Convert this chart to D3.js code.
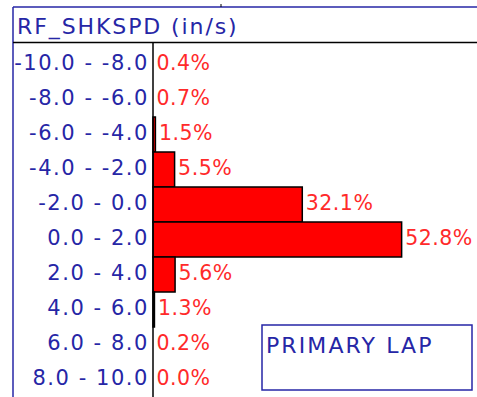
<!DOCTYPE html>
<html>
<head>
<meta charset="utf-8">
<script src="https://cdn.jsdelivr.net/npm/d3@7"></script>
<style>
  html, body { margin: 0; padding: 0; background: #fff; }
  svg { display: block; }
  text { font-family: "DejaVu Sans", sans-serif; }
</style>
</head>
<body>
<script>
// Histogram of RF_SHKSPD (shock speed, in/s), share of samples per bin
const channel = "RF_SHKSPD (in/s)";
const bins = ["-10.0 - -8.0", "-8.0 - -6.0", "-6.0 - -4.0", "-4.0 - -2.0", "-2.0 - 0.0",
              "0.0 - 2.0", "2.0 - 4.0", "4.0 - 6.0", "6.0 - 8.0", "8.0 - 10.0"];
const percents = [0.4, 0.7, 1.5, 5.5, 32.1, 52.8, 5.6, 1.3, 0.2, 0.0];
const lapLabel = "PRIMARY LAP";

const W = 477, H = 397;
const blue = "#2626a6", red = "#ff0000", redText = "#ff2a2a";

const svg = d3.select("body").append("svg").attr("width", W).attr("height", H);

const frameL = 13, frameT = 7, headerB = 42.5, axisX = 153;

const y = d3.scaleBand().domain(bins).range([47, H]).padding(0);
const x = d3.scaleLinear().domain([1.0, 68.5]).range([axisX, W]).clamp(true);

// frame
svg.append("line").attr("x1", frameL).attr("x2", W).attr("y1", frameT).attr("y2", frameT)
  .attr("stroke", blue).attr("stroke-width", 1.5);
svg.append("line").attr("x1", frameL).attr("x2", frameL).attr("y1", frameT).attr("y2", H)
  .attr("stroke", blue).attr("stroke-width", 1.5);
svg.append("line").attr("x1", 221).attr("x2", 221).attr("y1", 4).attr("y2", frameT)
  .attr("stroke", "#000").attr("stroke-width", 1);

// header
svg.append("text").attr("x", 17).attr("y", 33.5)
  .attr("fill", blue).attr("font-size", 22).attr("letter-spacing", 1.9)
  .text(channel);
svg.append("line").attr("x1", frameL).attr("x2", W).attr("y1", headerB).attr("y2", headerB)
  .attr("stroke", "#000").attr("stroke-width", 1.5);

// bars
svg.append("g").selectAll("rect").data(bins).join("rect")
  .attr("x", axisX)
  .attr("y", d => y(d))
  .attr("width", (d, i) => x(percents[i]) - axisX)
  .attr("height", y.bandwidth())
  .attr("fill", red)
  .attr("stroke", "#000").attr("stroke-width", 1.5)
  .attr("display", (d, i) => x(percents[i]) - axisX > 0 ? null : "none");

// value axis line
svg.append("line").attr("x1", axisX).attr("x2", axisX).attr("y1", headerB).attr("y2", H)
  .attr("stroke", "#000").attr("stroke-width", 1.5);

// bin labels
svg.append("g").selectAll("text").data(bins).join("text")
  .attr("x", 149)
  .attr("y", d => y(d) + y.bandwidth() / 2 + 5.5)
  .attr("text-anchor", "end")
  .attr("fill", blue).attr("font-size", 21).attr("letter-spacing", 1.55)
  .text(d => d);

// value labels
svg.append("g").selectAll("text").data(bins).join("text")
  .attr("x", (d, i) => Math.max(x(percents[i]), axisX) + 3.5)
  .attr("y", d => y(d) + y.bandwidth() / 2 + 5.5)
  .attr("fill", redText).attr("font-size", 20.5).attr("letter-spacing", 0.5)
  .text((d, i) => percents[i].toFixed(1) + "%");

// lap box
svg.append("rect").attr("x", 262).attr("y", 325).attr("width", 210).attr("height", 65)
  .attr("fill", "none").attr("stroke", blue).attr("stroke-width", 1.5);
svg.append("text").attr("x", 266).attr("y", 352.5)
  .attr("fill", blue).attr("font-size", 22).attr("letter-spacing", 2.1)
  .text(lapLabel);
</script>
</body>
</html>
